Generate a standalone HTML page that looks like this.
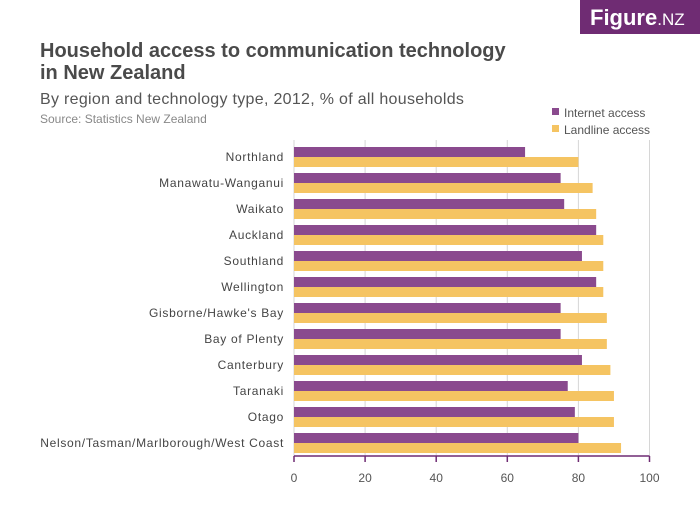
<!DOCTYPE html>
<html><head><meta charset="utf-8"><style>
body{margin:0;background:#fff;font-family:"Liberation Sans",sans-serif}
svg text{font-family:"Liberation Sans",sans-serif}
</style></head><body>
<svg width="700" height="525" viewBox="0 0 700 525">
<rect x="580" y="0" width="120" height="34" fill="#6f2c73"/>
<text x="590" y="25" fill="#fff" font-size="22" font-weight="bold">Figure<tspan font-weight="normal" font-size="17">.NZ</tspan></text>
<text x="40" y="57" fill="#4a4a4a" font-size="20" font-weight="bold">Household access to communication technology</text>
<text x="40" y="79" fill="#4a4a4a" font-size="20" font-weight="bold">in New Zealand</text>
<text x="40" y="104" fill="#555" font-size="16" letter-spacing="0.3">By region and technology type, 2012, % of all households</text>
<text x="40" y="123" fill="#888" font-size="12">Source: Statistics New Zealand</text>
<rect x="552" y="108" width="7" height="7" fill="#8a4a8e"/>
<text x="564" y="117" fill="#555" font-size="12">Internet access</text>
<rect x="552" y="125" width="7" height="7" fill="#f5c462"/>
<text x="564" y="134" fill="#555" font-size="12">Landline access</text>
<g id="plot"></g>
</svg>
<script>
const categories=["Northland","Manawatu-Wanganui","Waikato","Auckland","Southland","Wellington","Gisborne/Hawke's Bay","Bay of Plenty","Canterbury","Taranaki","Otago","Nelson/Tasman/Marlborough/West Coast"];
const internet=[65,75,76,85,81,85,75,75,81,77,79,80];
const landline=[80,84,85,87,87,87,88,88,89,90,90,92];
const ticks=[0,20,40,60,80,100];
const NS="http://www.w3.org/2000/svg";
const g=document.getElementById('plot');
const x0=294,x1=649.5,topY=144,pitch=26,axisY=456;
const xs=v=>x0+(v/100)*(x1-x0);
function el(t,a){const e=document.createElementNS(NS,t);for(const k in a)e.setAttribute(k,a[k]);g.appendChild(e);return e;}
ticks.forEach(t=>{
 const l=el('line',{x1:xs(t),x2:xs(t),y1:140,y2:axisY,stroke:'#d6d6d6','stroke-width':1});
 
 
 const tk=el('line',{x1:xs(t),x2:xs(t),y1:axisY,y2:axisY+6,stroke:'#6f2c73','stroke-width':1.5});
 
 
 const tx=el('text',{x:xs(t),y:482,'text-anchor':'middle','font-size':12,fill:'#555'});
 tx.textContent=t;
 
 
});
categories.forEach((c,i)=>{
 const y=topY+i*pitch;
 const b1=el('rect',{x:x0,y:y+3,width:xs(internet[i])-x0,height:10,fill:'#8a4a8e'});
 
 
 const b2=el('rect',{x:x0,y:y+13,width:xs(landline[i])-x0,height:10,fill:'#f5c462'});
 
 
 const t=el('text',{x:284,y:y+17,'text-anchor':'end','font-size':12,'letter-spacing':0.7,fill:'#444'});
 t.textContent=c;
 
 
});
const ax=el('line',{x1:x0,x2:x1,y1:axisY,y2:axisY,stroke:'#6f2c73','stroke-width':1.5});


</script>
</body></html>
